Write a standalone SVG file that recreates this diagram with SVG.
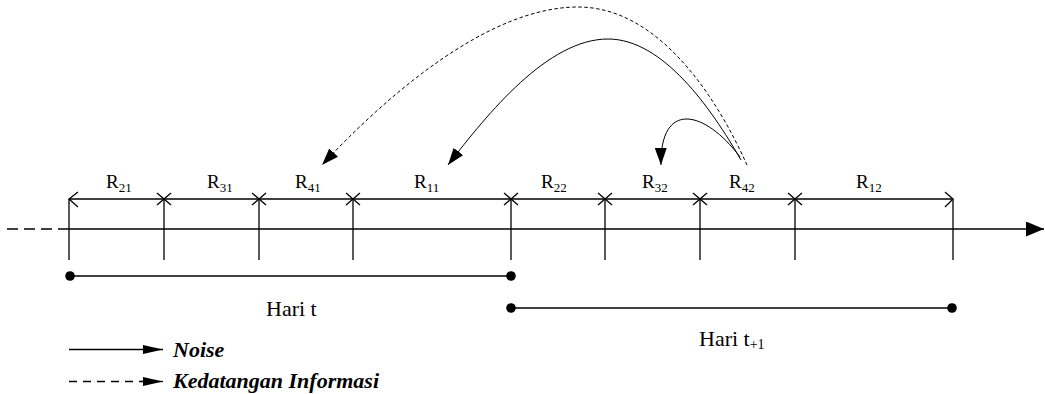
<svg xmlns="http://www.w3.org/2000/svg" width="1045" height="394" viewBox="0 0 1045 394">
  <style>
    .ln { stroke: #000; stroke-width: 1.3; fill: none; }
    .cv { stroke: #000; stroke-width: 1; fill: none; }
    .dsh { stroke-dasharray: 3.5,2.5; }
    .lbl { font-family: "Liberation Serif", "Times New Roman", serif; font-size: 19px; fill: #000; }
    .sub { font-size: 13px; }
    .hari { font-family: "Liberation Serif", "Times New Roman", serif; font-size: 22px; fill: #000; }
    .leg { font-family: "Liberation Serif", "Times New Roman", serif; font-size: 22px; font-weight: bold; font-style: italic; fill: #000; }
  </style>
  <defs>
    <marker id="arr" markerUnits="userSpaceOnUse" markerWidth="18" markerHeight="13" refX="17" refY="6" orient="auto">
      <path d="M0,0 L17,6 L0,12 z" fill="#000"/>
    </marker>
    <marker id="legArr" markerUnits="userSpaceOnUse" markerWidth="21" markerHeight="10" refX="20" refY="4.5" orient="auto">
      <path d="M0,0 L20,4.5 L0,9 z" fill="#000"/>
    </marker>
    <marker id="axArr" markerUnits="userSpaceOnUse" markerWidth="19" markerHeight="16" refX="18" refY="7.5" orient="auto">
      <path d="M0,0 L18,7.5 L0,15 z" fill="#000"/>
    </marker>
  </defs>

  <g id="axis">
    <line class="ln" x1="7" y1="229" x2="52" y2="229" stroke-dasharray="11,6"/>
    <line class="ln" x1="58" y1="229" x2="1044" y2="229" marker-end="url(#axArr)"/>
  </g>

  <g id="segments">
    <line class="ln" x1="69" y1="199" x2="953" y2="199"/>
    <polyline class="ln" points="78,192 69,199 78,207"/>
    <polyline class="ln" points="945,192 953,199 945,207"/>
    <g id="ticks">
      <line class="ln" x1="69" y1="199" x2="69" y2="260"/>
      <line class="ln" x1="164" y1="199" x2="164" y2="260"/>
      <line class="ln" x1="259" y1="199" x2="259" y2="260"/>
      <line class="ln" x1="353" y1="199" x2="353" y2="260"/>
      <line class="ln" x1="511" y1="199" x2="511" y2="260"/>
      <line class="ln" x1="605" y1="199" x2="605" y2="260"/>
      <line class="ln" x1="700" y1="199" x2="700" y2="260"/>
      <line class="ln" x1="795" y1="199" x2="795" y2="260"/>
      <line class="ln" x1="953" y1="199" x2="953" y2="260"/>
    </g>
    <g id="crosses">
      <path class="ln" d="M157,193 L171,205 M171,193 L157,205"/>
      <path class="ln" d="M252,193 L266,205 M266,193 L252,205"/>
      <path class="ln" d="M346,193 L360,205 M360,193 L346,205"/>
      <path class="ln" d="M504,193 L518,205 M518,193 L504,205"/>
      <path class="ln" d="M598,193 L612,205 M612,193 L598,205"/>
      <path class="ln" d="M693,193 L707,205 M707,193 L693,205"/>
      <path class="ln" d="M788,193 L802,205 M802,193 L788,205"/>
    </g>
  </g>

  <g id="labels">
    <text class="lbl" x="106" y="188">R<tspan class="sub" dy="3.5">21</tspan></text>
    <text class="lbl" x="207" y="188">R<tspan class="sub" dy="3.5">31</tspan></text>
    <text class="lbl" x="295" y="188">R<tspan class="sub" dy="3.5">41</tspan></text>
    <text class="lbl" x="414" y="188">R<tspan class="sub" dy="3.5">11</tspan></text>
    <text class="lbl" x="541" y="188">R<tspan class="sub" dy="3.5">22</tspan></text>
    <text class="lbl" x="642" y="188">R<tspan class="sub" dy="3.5">32</tspan></text>
    <text class="lbl" x="729" y="188">R<tspan class="sub" dy="3.5">42</tspan></text>
    <text class="lbl" x="856" y="188">R<tspan class="sub" dy="3.5">12</tspan></text>
  </g>

  <g id="hari-t">
    <line class="ln" x1="70" y1="276" x2="511" y2="276" stroke-width="1.6"/>
    <circle cx="70" cy="276" r="4.8" fill="#000"/>
    <circle cx="511" cy="276" r="4.8" fill="#000"/>
    <text class="hari" x="266" y="316">Hari t</text>
  </g>

  <g id="hari-t1">
    <line class="ln" x1="511" y1="308" x2="952" y2="308" stroke-width="1.6"/>
    <circle cx="511" cy="308" r="4.8" fill="#000"/>
    <circle cx="952" cy="308" r="4.8" fill="#000"/>
    <text class="hari" x="699" y="346">Hari t<tspan font-size="14" dy="3">+1</tspan></text>
  </g>

  <g id="connectors">
    <path class="cv dsh" d="M747,165 C718,100 660,7 578,7 C490,7 390,92 322,165" marker-end="url(#arr)"/>
    <path class="cv" d="M741,160 C711,108 663,39 608,39 C548,39 488,113 448,165" marker-end="url(#arr)"/>
    <path class="cv" d="M740,157 C705,110 660,100 661,165" marker-end="url(#arr)"/>
  </g>

  <g id="legend">
    <line class="ln" x1="69" y1="349.5" x2="163" y2="349.5" marker-end="url(#legArr)"/>
    <text class="leg" x="173" y="357">Noise</text>
    <line class="ln" x1="69" y1="381.5" x2="147" y2="381.5" stroke-dasharray="8,6"/>
    <line class="ln" x1="141" y1="381.5" x2="163" y2="381.5" marker-end="url(#legArr)"/>
    <text class="leg" x="173" y="388">Kedatangan Informasi</text>
  </g>
</svg>
